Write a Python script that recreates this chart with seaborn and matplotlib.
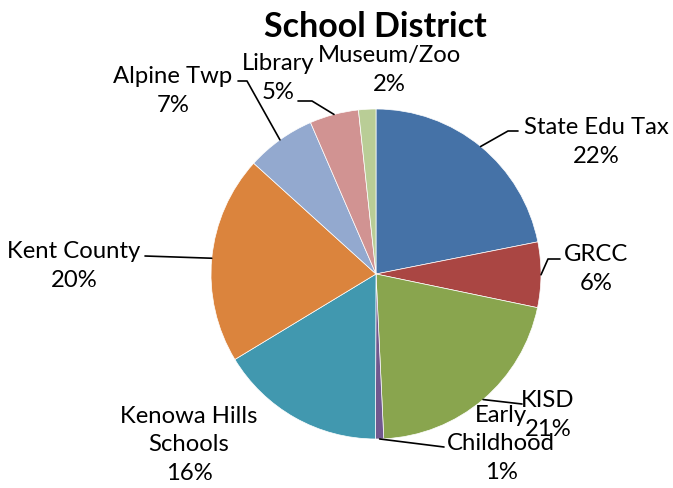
import numpy as np
import matplotlib.pyplot as plt
import seaborn as sns

# slice data, clockwise from 12 o'clock
labels = ["State Edu Tax", "GRCC", "KISD", "Early\nChildhood", "Kenowa Hills\nSchools",
          "Kent County", "Alpine Twp", "Library", "Museum/Zoo"]
shares = [21.9, 6.4, 21.0, 0.8, 16.3, 20.4, 6.8, 4.8, 1.7]
colors = ["#4572A7", "#AA4643", "#89A54E", "#71588F", "#4198AF",
          "#DB843D", "#93A9CF", "#D19392", "#B9CD96"]

# label layout in pixels (x, y from top) and leader elbows
text_pos = [(596, 142), (596, 269), (548, 415), (501, 444), (189, 445),
            (74, 266), (173, 91), (278, 78), (389, 70)]
leaders = [[(508, 132), (518, 132)], [(548, 260), (560, 260)], [(522, 405)],
           [(444, 448)], [], [(145, 257)], [(247, 82), (238, 82)],
           [(312, 102), (298, 102)], []]

W, H = 673, 489
cx, cy, r = 376, 275, 165

sns.set_theme(style="white")
plt.rcParams['font.family'] = ['Lato', 'DejaVu Sans']

fig = plt.figure(figsize=(W / 100, H / 100), dpi=100)
ax = fig.add_axes([0, 0, 1, 1])

wedges, _ = ax.pie(shares, colors=colors, startangle=90, counterclock=False,
                   center=(cx, H - cy), radius=r,
                   wedgeprops=dict(edgecolor="white", linewidth=0.5))
ax.set_xlim(0, W)
ax.set_ylim(0, H)
ax.axis("off")

total = sum(shares)
for w, lab, v, (tx, ty), elb in zip(wedges, labels, shares, text_pos, leaders):
    pct = f"{v / total * 100:.0f}%"
    ax.text(tx, H - ty, f"{lab}\n{pct}", ha="center", va="center",
            fontsize=17.2, linespacing=1.45, color="black")
    if elb:
        mid = np.deg2rad((w.theta1 + w.theta2) / 2)
        xs = [cx + r * np.cos(mid)] + [p[0] for p in elb]
        ys = [H - cy + r * np.sin(mid)] + [H - p[1] for p in elb]
        ax.plot(xs, ys, color="black", lw=1.2)

ax.text(375, H - 27, "School District", ha="center", va="center",
        fontsize=24.5, fontweight="bold", color="black")

fig.savefig("out.png", dpi=100)
